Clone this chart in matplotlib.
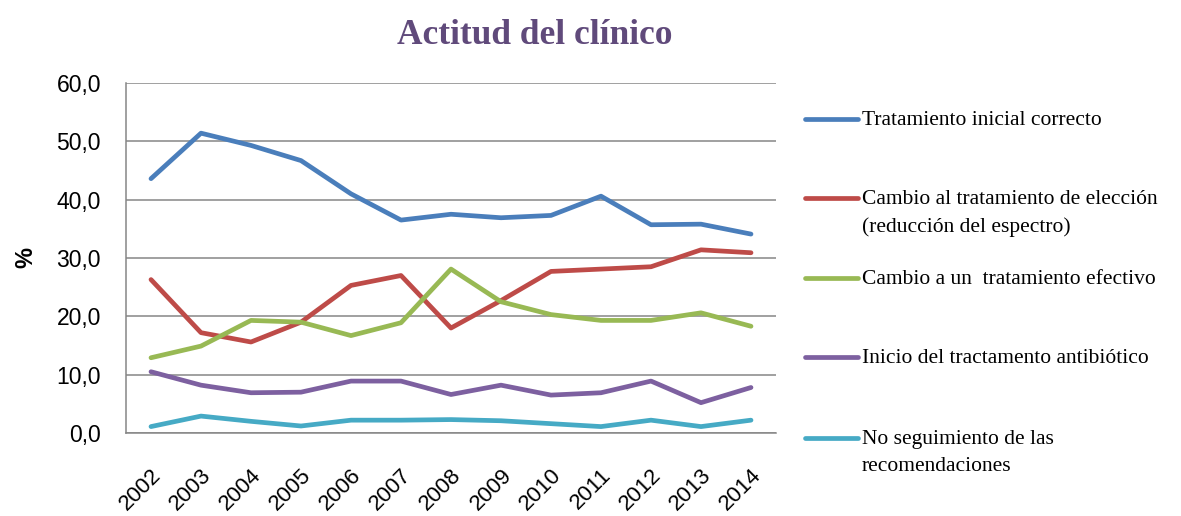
import matplotlib
matplotlib.use("Agg")
import matplotlib.pyplot as plt
from matplotlib.lines import Line2D

# data
years = ["2002", "2003", "2004", "2005", "2006", "2007", "2008",
         "2009", "2010", "2011", "2012", "2013", "2014"]
inicial_correcto = [43.6, 51.4, 49.3, 46.7, 41.0, 36.5, 37.5, 36.9, 37.3, 40.6, 35.7, 35.8, 34.1]
cambio_eleccion = [26.3, 17.2, 15.6, 19.0, 25.3, 27.0, 18.0, 22.7, 27.7, 28.1, 28.5, 31.4, 30.9]
cambio_efectivo = [12.9, 14.9, 19.3, 19.0, 16.7, 18.9, 28.1, 22.5, 20.3, 19.3, 19.3, 20.6, 18.3]
inicio_antibiotico = [10.5, 8.2, 6.9, 7.0, 8.9, 8.9, 6.6, 8.2, 6.5, 6.9, 8.9, 5.2, 7.8]
no_seguimiento = [1.1, 2.9, 2.0, 1.2, 2.2, 2.2, 2.3, 2.1, 1.6, 1.1, 2.2, 1.1, 2.2]

series = [inicial_correcto, cambio_eleccion, cambio_efectivo, inicio_antibiotico, no_seguimiento]
labels = ["Tratamiento inicial correcto",
          "Cambio al tratamiento de elección\n(reducción del espectro)",
          "Cambio a un  tratamiento efectivo",
          "Inicio del tractamento antibiótico",
          "No seguimiento de las\nrecomendaciones"]
colors = ["#4A7EBB", "#BE4B48", "#98B954", "#7D60A0", "#46AAC5"]
yticks = [0, 10, 20, 30, 40, 50, 60]

fig = plt.figure(figsize=(11.81, 5.16), dpi=100)
ax = fig.add_axes([126 / 1181, 1 - 433 / 516, 650 / 1181, 350 / 516])

x = list(range(len(years)))
for vals, c in zip(series, colors):
    ax.plot(x, vals, color=c, lw=3.4, solid_capstyle="round", solid_joinstyle="round")

ax.set_xlim(-0.5, len(years) - 0.5)
ax.set_ylim(0, 60)
ax.set_yticks(yticks)
ax.set_yticklabels([f"{v:.1f}".replace(".", ",") for v in yticks],
                   fontfamily="Liberation Sans", fontsize=16.5)
ax.set_xticks(x)
ax.set_xticklabels(years, rotation=45, ha="right", va="top", rotation_mode="anchor",
                   fontfamily="Liberation Sans", fontsize=16)
ax.tick_params(axis="both", length=0)
ax.tick_params(axis="y", pad=18)
ax.tick_params(axis="x", pad=23)

ax.grid(axis="y", color="#868686", lw=1.1)
ax.set_axisbelow(True)
for s in ["top", "right"]:
    ax.spines[s].set_visible(False)
for s in ["left", "bottom"]:
    ax.spines[s].set_color("#868686")
    ax.spines[s].set_linewidth(1.1)

ax.set_ylabel("%", fontfamily="Liberation Sans", fontsize=17, fontweight="bold")
ax.yaxis.set_label_coords(-0.137, 0.5)

fig.text(535 / 1181, 1 - 35 / 516, "Actitud del clínico", ha="center", va="center",
         fontfamily="Liberation Serif", fontweight="bold", fontsize=25.5, color="#604A7B")

# legend drawn by hand, first text line aligned with the handle
leg_y = [119, 198, 278, 357, 438]
for lab, c, yy in zip(labels, colors, leg_y):
    fy = 1 - yy / 516
    fig.add_artist(Line2D([805 / 1181, 858 / 1181], [fy, fy], color=c, lw=3.4,
                          solid_capstyle="round", transform=fig.transFigure))
    fig.text(862 / 1181, fy + 8 / 516, lab, ha="left", va="top",
             fontfamily="Liberation Serif", fontsize=15.5, linespacing=1.55)

fig.savefig("out.png", dpi=100)
